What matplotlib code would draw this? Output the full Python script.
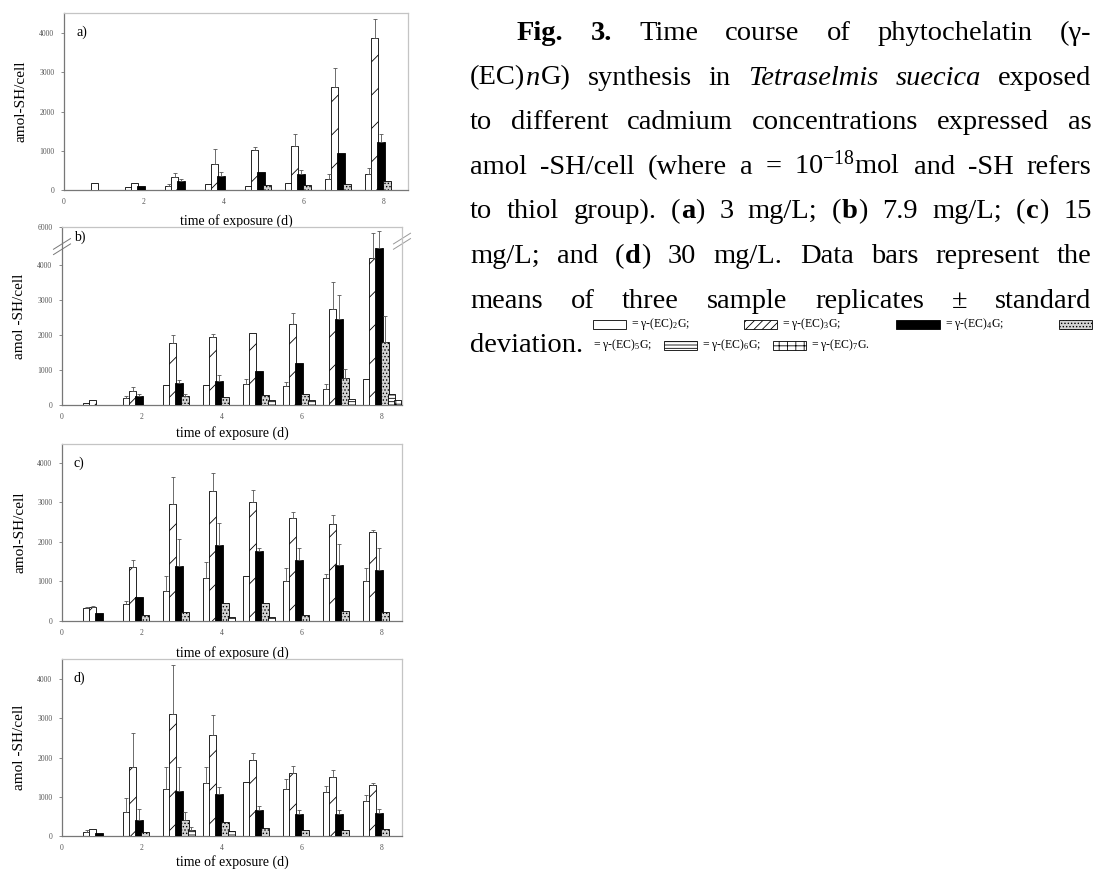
import numpy as np
import matplotlib
matplotlib.use('Agg')
import matplotlib.pyplot as plt
import matplotlib.patches as mpatches

plt.rcParams['font.family'] = ['Liberation Serif', 'DejaVu Serif']
plt.rcParams['mathtext.fontset'] = 'custom'
plt.rcParams['mathtext.rm'] = 'Liberation Serif'
plt.rcParams['mathtext.it'] = 'Liberation Serif:italic'
plt.rcParams['mathtext.bf'] = 'Liberation Serif:bold'
plt.rcParams['hatch.linewidth'] = 0.6

# --- data: amol -SH/cell, rows = PC2..PC7, columns = day 1..8 ---
DAYS = [1, 2, 3, 4, 5, 6, 7, 8]

a_mean = [[0, 80, 100, 150, 100, 180, 280, 420],
          [180, 180, 330, 650, 1020, 1130, 2620, 3870],
          [0, 110, 220, 350, 470, 420, 950, 1230],
          [0, 0, 0, 0, 130, 130, 150, 220],
          [0, 0, 0, 0, 0, 0, 0, 0],
          [0, 0, 0, 0, 0, 0, 0, 0]]
a_sd = [[0, 0, 60, 0, 0, 0, 140, 150],
        [0, 0, 100, 400, 80, 290, 500, 480],
        [0, 0, 60, 100, 0, 100, 0, 200],
        [0, 0, 0, 0, 0, 0, 0, 0],
        [0, 0, 0, 0, 0, 0, 0, 0],
        [0, 0, 0, 0, 0, 0, 0, 0]]

b_mean = [[50, 200, 570, 560, 600, 530, 450, 730],
          [150, 400, 1780, 1930, 2060, 2300, 2730, 4200],
          [0, 270, 620, 680, 980, 1200, 2450, 4480],
          [0, 0, 250, 220, 280, 300, 770, 1800],
          [0, 0, 0, 0, 130, 130, 170, 300],
          [0, 0, 0, 0, 0, 0, 0, 150]]
b_sd = [[0, 60, 0, 0, 150, 120, 150, 0],
        [0, 100, 220, 100, 0, 330, 780, 700],
        [0, 30, 100, 180, 0, 0, 700, 500],
        [0, 0, 70, 0, 0, 0, 250, 750],
        [0, 0, 0, 0, 0, 0, 0, 0],
        [0, 0, 0, 0, 0, 0, 0, 0]]

c_mean = [[320, 430, 750, 1080, 1150, 1000, 1100, 1000],
          [350, 1370, 2950, 3300, 3000, 2600, 2450, 2250],
          [200, 600, 1380, 1930, 1780, 1540, 1420, 1280],
          [0, 150, 230, 450, 450, 150, 250, 220],
          [0, 0, 0, 100, 100, 0, 0, 0],
          [0, 0, 0, 0, 0, 0, 0, 0]]
c_sd = [[30, 80, 400, 420, 0, 330, 80, 330],
        [30, 180, 700, 450, 320, 170, 230, 50],
        [0, 0, 700, 550, 80, 300, 520, 560],
        [0, 0, 0, 0, 0, 0, 0, 0],
        [0, 0, 0, 0, 0, 0, 0, 0],
        [0, 0, 0, 0, 0, 0, 0, 0]]

d_mean = [[100, 620, 1200, 1350, 1380, 1190, 1130, 900],
          [180, 1750, 3120, 2580, 1930, 1600, 1510, 1290],
          [80, 400, 1150, 1080, 660, 570, 560, 580],
          [0, 100, 400, 350, 200, 150, 150, 170],
          [0, 0, 150, 130, 0, 0, 0, 0],
          [0, 0, 0, 0, 0, 0, 0, 0]]
d_sd = [[50, 350, 560, 420, 0, 270, 150, 150],
        [0, 870, 1230, 500, 180, 180, 160, 50],
        [0, 300, 600, 170, 100, 100, 100, 100],
        [0, 0, 200, 0, 0, 0, 0, 0],
        [0, 0, 70, 0, 0, 0, 0, 0],
        [0, 0, 0, 0, 0, 0, 0, 0]]

PANEL_LABELS = ['a)', 'b)', 'c)', 'd)']
YLABELS = ['amol-SH/cell', 'amol -SH/cell', 'amol-SH/cell', 'amol -SH/cell']
MEANS = [a_mean, b_mean, c_mean, d_mean]
SDS = [a_sd, b_sd, c_sd, d_sd]

# bar styles for PC2..PC7
FACES = ['white', 'white', 'black', '#d2d2d2', 'white', 'white']
HATCHES = [None, '/', None, '.....', '-----', '++']
LEG_HATCHES = [None, '////', None, '.....', '-----', '++']

W, H = 1110, 869
fig = plt.figure(figsize=(W / 100, H / 100), dpi=100)
renderer = fig.canvas.get_renderer()


def fx(x):
    return x / W


def fy(y):
    return 1 - y / H


# panel boxes in pixels: left, right, top, bottom
BOXES = [(64, 408, 13, 190), (62, 402, 227, 405), (62, 402, 444, 621), (62, 402, 659, 836)]
XMAX = [8.6, 8.5, 8.5, 8.5]
YMAX = [4510, 5085, 4480, 4510]
XLAB_Y = [-0.135, -0.12, -0.14, -0.105]
STEP = 0.155
WIDTH = 0.185

days = np.array(DAYS, dtype=float)
offsets = (np.arange(6) - 2.5) * STEP

for k in range(4):
    l, r, t, b = BOXES[k]
    ax = fig.add_axes([fx(l), fy(b), (r - l) / W, (b - t) / H])
    mean = np.array(MEANS[k], dtype=float)
    sd = np.array(SDS[k], dtype=float)
    for i in range(6):
        ax.bar(days + offsets[i], mean[i], width=WIDTH, facecolor=FACES[i],
               hatch=HATCHES[i], edgecolor='black', linewidth=0.6, zorder=2 + i)
        m = sd[i] > 0
        if m.any():
            ax.errorbar(days[m] + offsets[i], mean[i][m],
                        yerr=[np.zeros(m.sum()), sd[i][m]], fmt='none',
                        ecolor='#555555', elinewidth=0.6, capsize=1.5,
                        capthick=0.6, zorder=10)

    ax.set_xlim(0, XMAX[k])
    ax.set_ylim(0, YMAX[k])
    ax.set_xticks([0, 2, 4, 6, 8])
    if k == 1:
        ax.set_yticks([0, 1000, 2000, 3000, 4000, YMAX[k]])
        ax.set_yticklabels(['0', '1000', '2000', '3000', '4000', '6000'])
    else:
        ax.set_yticks([0, 1000, 2000, 3000, 4000])
    ax.tick_params(axis='y', labelsize=5.5, length=2, width=0.6, pad=5,
                   colors='#777777', labelcolor='#555555')
    ax.tick_params(axis='x', labelsize=5.5, length=0, pad=6, labelcolor='#555555')
    for side in ['left', 'bottom']:
        ax.spines[side].set_color('#777777')
        ax.spines[side].set_linewidth(0.9)
    for side in ['top', 'right']:
        ax.spines[side].set_color('#c4c4c4')
        ax.spines[side].set_linewidth(0.9)

    ax.set_xlabel('time of exposure (d)', fontsize=10)
    ax.xaxis.set_label_coords(0.5, XLAB_Y[k])
    ax.set_ylabel(YLABELS[k], fontsize=11)
    ax.yaxis.set_label_coords(-0.105, 0.5)
    ax.text(0.035, 0.89 if k != 1 else 0.94, PANEL_LABELS[k], transform=ax.transAxes,
            fontsize=10, va='center', ha='left')

    if k == 1:
        # axis break marks
        for yy in (0.875, 0.905):
            ax.plot([-0.025, 0.025], [yy - 0.03, yy + 0.03], color='#777777',
                    lw=0.7, transform=ax.transAxes, clip_on=False)
            ax.plot([0.975, 1.025], [yy, yy + 0.06], color='#999999',
                    lw=0.7, transform=ax.transAxes, clip_on=False)

# --- caption text, justified like the original ---
CAP = 20.5
BOLD = {'fontweight': 'bold'}
IT = {'fontstyle': 'italic'}


def text_width(s, size, kw):
    t = fig.text(0, 0, s, fontsize=size, **kw)
    w = t.get_window_extent(renderer=renderer).width
    t.remove()
    return w


def word(*segs, size=CAP):
    parts = []
    for s in segs:
        if isinstance(s, str):
            s = (s, {})
        txt, kw = s
        parts.append((txt, kw, text_width(txt, size, kw) + 0.5))
    total = sum(p[2] for p in parts)

    def draw(x, y):
        for txt, kw, w in parts:
            fig.text(fx(x), fy(y), txt, fontsize=size, va='baseline', ha='left', **kw)
            x += w
    return total, draw


def box(i, w=33, h=9):
    def draw(x, y):
        fig.add_artist(mpatches.Rectangle((fx(x), fy(y + h / 2)), w / W, h / H,
                                          transform=fig.transFigure, facecolor=FACES[i],
                                          hatch=LEG_HATCHES[i], edgecolor='black', lw=0.6))
    return w, draw


def pair(tokens, gap=5):
    # several tokens glued together with a fixed gap
    total = sum(w for w, _ in tokens) + gap * (len(tokens) - 1)

    def draw(x, y):
        for w, d in tokens:
            d(x, y)
            x += w + gap
    return total, draw


def layout(tokens, x0, y, x1=None, gap=6):
    total = sum(w for w, _ in tokens)
    if x1 is not None and len(tokens) > 1:
        gap = (x1 - x0 - total) / (len(tokens) - 1)
    x = x0
    for w, draw in tokens:
        draw(x, y)
        x += w + gap


def words(s):
    return [word(w) for w in s.split()]


LEFT, RIGHT = 470, 1092
SPACING = 44.6
base = [33 + SPACING * i + 7 for i in range(8)]

layout([word(("Fig.", BOLD)), word(("3.", BOLD))] + words("Time course of phytochelatin (γ-"),
       517, base[0], RIGHT)
layout([word("(EC)", ("n", IT), "G)"), word("synthesis"), word("in"),
        word(("Tetraselmis", IT)), word(("suecica", IT)), word("exposed")],
       LEFT, base[1], RIGHT)
layout(words("to different cadmium concentrations expressed as"), LEFT, base[2], RIGHT)
layout(words("amol -SH/cell (where a = 10$^{-18}$mol and -SH refers"), LEFT, base[3], RIGHT)
layout(words("to thiol group).") + [word("(", ("a", BOLD), ")")] + words("3 mg/L;")
       + [word("(", ("b", BOLD), ")")] + words("7.9 mg/L;")
       + [word("(", ("c", BOLD), ")")] + words("15"), LEFT, base[4], RIGHT)
layout(words("mg/L; and") + [word("(", ("d", BOLD), ")")]
       + words("30 mg/L. Data bars represent the"), LEFT, base[5], RIGHT)
layout(words("means of three sample replicates ± standard"), LEFT, base[6], RIGHT)
dev = word("deviation.")
layout([dev], LEFT, base[7])

# legend rows, starting right after "deviation."
LEG = 8.5
LEG_X = LEFT + dev[0] + 9
row1_y = base[7] - 7 - 21
row2_y = base[7] - 7
leg_text = [word("= γ-(EC)$_{%d}$G%s" % (n, ";" if n < 7 else "."), size=LEG) for n in range(2, 8)]


def shift(tok, dy):
    w, d = tok
    return w, (lambda x, y: d(x, y + dy))


row1 = [pair([box(0), shift(leg_text[0], 3)]), pair([box(1), shift(leg_text[1], 3)]),
        pair([box(2, w=44), shift(leg_text[2], 3)]), box(3)]
layout(row1, LEG_X, row1_y, RIGHT)
row2 = [pair([shift(leg_text[3], 3)]), pair([box(4), shift(leg_text[4], 3)]),
        pair([box(5), shift(leg_text[5], 3)])]
layout(row2, LEG_X, row2_y, gap=12)

fig.savefig('out.png', dpi=100, facecolor='white')
